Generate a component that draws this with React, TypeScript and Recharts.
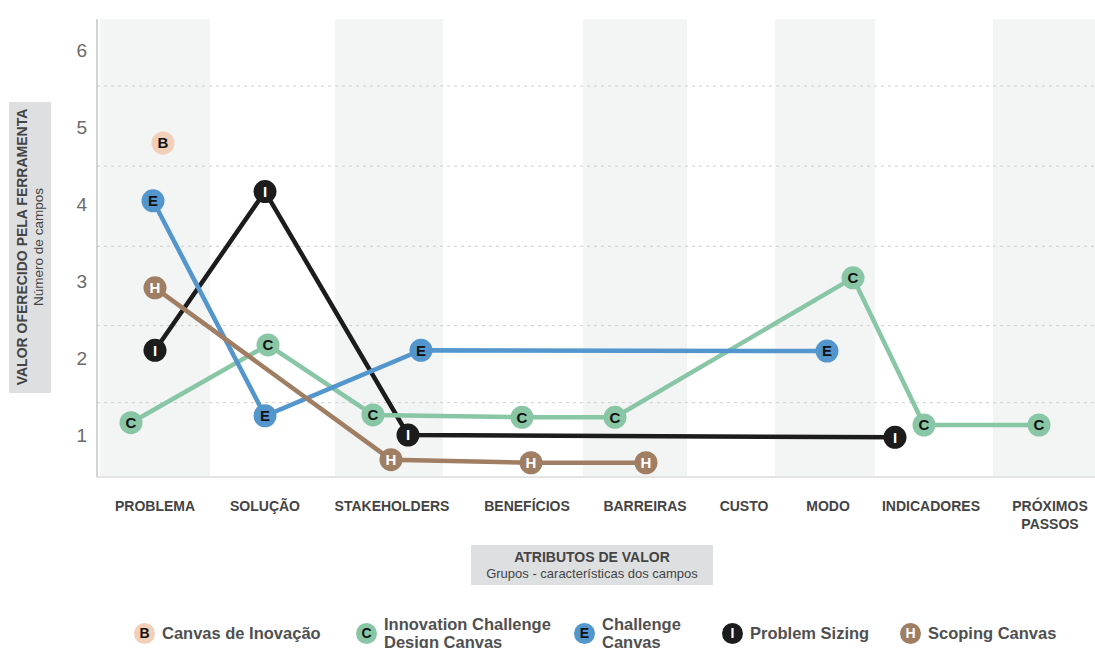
import React from 'react';
import {
  ComposedChart,
  Line,
  XAxis,
  YAxis,
  ReferenceArea,
  ReferenceLine,
} from 'recharts';

// categories and where each sits on the (numeric) horizontal axis
const categories = [
  'PROBLEMA',
  'SOLUÇÃO',
  'STAKEHOLDERS',
  'BENEFÍCIOS',
  'BARREIRAS',
  'CUSTO',
  'MODO',
  'INDICADORES',
  'PRÓXIMOS PASSOS',
];
const categoryPos = [58, 168, 295, 430, 548, 647, 731, 834, 953];

// shaded columns behind every other group
const bandStart = [3, 238, 486, 678, 896];
const bandEnd = [113, 346, 590, 778, 998];

const yTicks = [1, 2, 3, 4, 5, 6];
const gridValues = [1.42, 2.42, 3.45, 4.49, 5.53];

// series: x = position along the attribute axis, y = value
const canvasInovacaoX = [66];
const canvasInovacaoY = [4.79];

const innovationChallengeX = [34, 171, 276, 425, 518, 756, 827, 942];
const innovationChallengeY = [1.16, 2.17, 1.26, 1.23, 1.23, 3.04, 1.13, 1.13];

const challengeCanvasX = [56, 168, 324, 730];
const challengeCanvasY = [4.04, 1.25, 2.1, 2.09];

const problemSizingX = [58, 168, 311, 798];
const problemSizingY = [2.1, 4.16, 1.0, 0.97];

const scopingCanvasX = [58, 294, 434, 549];
const scopingCanvasY = [2.91, 0.68, 0.64, 0.64];

const toPoints = (xs: number[], ys: number[]) => xs.map((x, i) => ({ x, y: ys[i] }));

const series = [
  { name: 'Problem Sizing', letter: 'I', color: '#1c1c1c', text: '#fff', data: toPoints(problemSizingX, problemSizingY) },
  { name: 'Innovation Challenge Design Canvas', letter: 'C', color: '#88c6a6', text: '#111', data: toPoints(innovationChallengeX, innovationChallengeY) },
  { name: 'Challenge Canvas', letter: 'E', color: '#5395cd', text: '#111', data: toPoints(challengeCanvasX, challengeCanvasY) },
  { name: 'Scoping Canvas', letter: 'H', color: '#a07e63', text: '#fff', data: toPoints(scopingCanvasX, scopingCanvasY) },
  { name: 'Canvas de Inovação', letter: 'B', color: '#f2cfb8', text: '#111', data: toPoints(canvasInovacaoX, canvasInovacaoY) },
];

const legendItems = [
  { letter: 'B', color: '#f2cfb8', text: '#111', lines: ['Canvas de Inovação'], left: 134 },
  { letter: 'C', color: '#88c6a6', text: '#111', lines: ['Innovation Challenge', 'Design Canvas'], left: 356 },
  { letter: 'E', color: '#5395cd', text: '#111', lines: ['Challenge', 'Canvas'], left: 574 },
  { letter: 'I', color: '#1c1c1c', text: '#fff', lines: ['Problem Sizing'], left: 722 },
  { letter: 'H', color: '#a07e63', text: '#fff', lines: ['Scoping Canvas'], left: 900 },
];

const FONT = '"Liberation Sans", Arial, Helvetica, sans-serif';

const makeDot = (color: string, letter: string, textColor: string) => (props: any) => {
  const { cx, cy, index } = props;
  if (cx == null || cy == null) return <g key={index} />;
  return (
    <g key={`dot-${letter}-${index}`}>
      <circle cx={cx} cy={cy} r={11.5} fill={color} />
      <text
        x={cx}
        y={cy}
        dy="0.36em"
        textAnchor="middle"
        fontFamily={FONT}
        fontWeight={700}
        fontSize={15}
        fill={textColor}
      >
        {letter}
      </text>
    </g>
  );
};

const XTick = (props: any) => {
  const { x, y, payload } = props;
  const idx = categoryPos.indexOf(payload.value);
  const label = categories[idx] ?? '';
  const words = label === 'PRÓXIMOS PASSOS' ? ['PRÓXIMOS', 'PASSOS'] : [label];
  return (
    <text x={x} y={y} textAnchor="middle" fontFamily={FONT} fontWeight={700} fontSize={14} fill="#444">
      {words.map((w, i) => (
        <tspan key={w} x={x} dy={i === 0 ? '0.71em' : '1.3em'}>
          {w}
        </tspan>
      ))}
    </text>
  );
};

const ChartLegend = () => (
  <div style={{ position: 'absolute', left: 0, top: 616, width: 1095, height: 40 }}>
    {legendItems.map((it) => (
      <div
        key={it.letter}
        style={{ position: 'absolute', left: it.left, top: 0, display: 'flex', alignItems: 'center', height: 34 }}
      >
        <div
          style={{
            width: 21,
            height: 21,
            borderRadius: '50%',
            background: it.color,
            color: it.text,
            fontFamily: FONT,
            fontWeight: 700,
            fontSize: 14,
            lineHeight: '21px',
            textAlign: 'center',
            marginRight: 7,
          }}
        >
          {it.letter}
        </div>
        <div style={{ fontFamily: FONT, fontWeight: 700, fontSize: 16.5, color: '#505050', lineHeight: '18px' }}>
          {it.lines.map((l) => (
            <div key={l}>{l}</div>
          ))}
        </div>
      </div>
    ))}
  </div>
);

export default function App() {
  return (
    <div style={{ position: 'absolute', left: 0, top: 0, width: 1095, height: 648, overflow: 'hidden', background: '#fff' }}>
      {/* y-axis title */}
      <div
        style={{
          position: 'absolute',
          left: 9,
          top: 102,
          width: 42,
          height: 291,
          background: '#dedfe0',
        }}
      >
        <div
          style={{
            position: 'absolute',
            left: 21,
            top: 145,
            width: 291,
            transform: 'translate(-50%, -50%) rotate(-90deg)',
            textAlign: 'center',
            fontFamily: FONT,
            color: '#444',
          }}
        >
          <div style={{ fontWeight: 700, fontSize: 14, lineHeight: '17px' }}>VALOR OFERECIDO PELA FERRAMENTA</div>
          <div style={{ fontSize: 13.5, lineHeight: '16px' }}>Número de campos</div>
        </div>
      </div>

      {/* x-axis title */}
      <div
        style={{
          position: 'absolute',
          left: 471,
          top: 545,
          width: 242,
          height: 40,
          background: '#dedfe0',
          textAlign: 'center',
          fontFamily: FONT,
          color: '#444',
        }}
      >
        <div style={{ fontWeight: 700, fontSize: 14, lineHeight: '17px', marginTop: 4 }}>ATRIBUTOS DE VALOR</div>
        <div style={{ fontSize: 13, lineHeight: '16px' }}>Grupos - características dos campos</div>
      </div>

      <ComposedChart
        width={1095}
        height={648}
        margin={{ top: 19, right: 0, bottom: 141, left: 0 }}
        style={{ position: 'absolute', left: 0, top: 0 }}
      >
        <XAxis
          type="number"
          dataKey="x"
          domain={[0, 998]}
          ticks={categoryPos}
          interval={0}
          height={30}
          tickLine={false}
          tickSize={0}
          tickMargin={24}
          axisLine={{ stroke: '#e4e4e4', strokeWidth: 2 }}
          tick={<XTick />}
          allowDataOverflow
        />
        <YAxis
          type="number"
          domain={[0.455, 6.4]}
          ticks={yTicks}
          width={97}
          tickLine={false}
          tickSize={0}
          tickMargin={10}
          axisLine={{ stroke: '#a8a8a8' }}
          tick={{ fontFamily: FONT, fontSize: 19, fill: '#6b6b6b' }}
          allowDataOverflow
        />
        {bandStart.map((s, i) => (
          <ReferenceArea key={`band-${i}`} x1={s} x2={bandEnd[i]} fill="#f3f4f4" fillOpacity={1} stroke="none" />
        ))}
        {gridValues.map((v) => (
          <ReferenceLine key={`grid-${v}`} y={v} stroke="#cfcfcf" strokeDasharray="3 4" strokeWidth={1} />
        ))}
        {series.map((s) => (
          <Line
            key={s.name}
            data={s.data}
            dataKey="y"
            name={s.name}
            type="linear"
            stroke={s.color}
            strokeWidth={4.5}
            dot={makeDot(s.color, s.letter, s.text)}
            activeDot={false}
            isAnimationActive={false}
          />
        ))}
      </ComposedChart>
      <ChartLegend />
    </div>
  );
}
